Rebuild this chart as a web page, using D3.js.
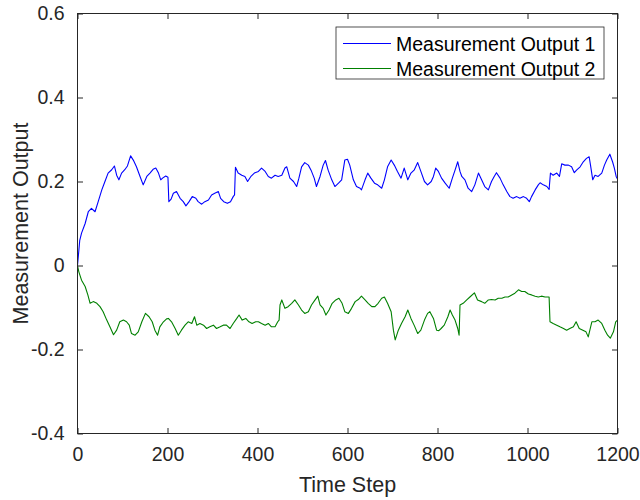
<!DOCTYPE html>
<html>
<head>
<meta charset="utf-8">
<script src="https://cdn.jsdelivr.net/npm/d3@7"></script>
<style>
  html, body { margin: 0; padding: 0; background: #fff; }
  svg { display: block; font-family: Arial, "Liberation Sans", Helvetica, sans-serif; }
</style>
</head>
<body>
<svg id="chart" width="640" height="500"></svg>
<script>
// Measurement Output 1: time steps and values
const steps1 = [0,5,9,17,24,31,39,46,54,61,68,76,82,87,92,98,105,111,118,124,131,139,146,154,161,168,174,180,185,189,196,201,
  203,208,213,220,228,235,241,248,255,263,268,276,283,291,298,305,313,318,325,333,340,346,349,351,357,365,372,378,386,393,
  402,409,417,424,431,439,446,454,461,465,472,480,487,492,498,505,513,519,526,531,539,546,551,557,565,572,580,587,594,600,
  605,613,620,628,631,639,645,652,660,667,676,682,689,697,704,711,719,726,734,741,748,756,763,771,778,786,791,796,
  802,809,817,826,833,839,845,850,854,861,868,876,883,891,898,905,913,920,926,931,939,946,954,961,968,976,983,991,998,1004,
  1009,1017,1024,1028,1035,1043,1048,1051,1057,1065,1071,1076,1083,1091,1098,1104,1109,1117,1124,1131,1137,1140,1145,1150,
  1157,1165,1171,1176,1183,1189,1193,1197,1200];
const output1 = [0,0.06,0.077,0.10,0.128,0.136,0.128,0.152,0.18,0.20,0.22,0.228,0.237,0.215,0.204,0.22,0.228,0.237,0.261,0.251,0.235,0.212,0.192,0.212,0.22,0.229,0.232,0.22,0.204,0.208,0.213,0.21,
  0.152,0.158,0.172,0.176,0.16,0.152,0.142,0.152,0.164,0.16,0.152,0.146,0.152,0.156,0.168,0.172,0.176,0.16,0.152,0.148,0.152,0.164,0.168,0.234,0.22,0.215,0.212,0.2,0.213,0.22,
  0.224,0.232,0.224,0.212,0.208,0.215,0.212,0.215,0.232,0.235,0.208,0.2,0.188,0.208,0.235,0.245,0.239,0.227,0.208,0.188,0.212,0.239,0.25,0.227,0.204,0.188,0.196,0.204,0.251,0.253,
  0.239,0.204,0.188,0.184,0.18,0.204,0.22,0.208,0.196,0.192,0.184,0.204,0.235,0.251,0.239,0.224,0.208,0.232,0.204,0.22,0.227,0.245,0.224,0.2,0.192,0.2,0.212,0.232,
  0.224,0.208,0.196,0.184,0.208,0.227,0.247,0.224,0.212,0.204,0.184,0.176,0.192,0.22,0.204,0.188,0.18,0.2,0.212,0.221,0.208,0.192,0.176,0.164,0.16,0.164,0.16,0.164,0.16,0.152,
  0.164,0.18,0.192,0.197,0.192,0.188,0.181,0.22,0.215,0.22,0.212,0.242,0.239,0.239,0.235,0.221,0.227,0.235,0.247,0.255,0.259,0.239,0.204,0.215,
  0.212,0.22,0.239,0.251,0.265,0.247,0.232,0.212,0.206];

// Measurement Output 2: time steps and values
const steps2 = [0,3,9,17,23,28,35,43,50,57,65,72,80,87,94,102,109,115,120,128,135,143,151,159,166,172,178,183,191,198,
  202,209,217,224,231,239,246,254,260,265,272,280,287,294,302,309,317,324,331,339,346,354,359,366,374,381,388,396,
  402,409,417,424,431,439,445,448,450,454,461,468,476,483,491,498,505,513,520,528,534,539,546,552,559,566,574,581,588,594,602,
  609,617,624,631,639,646,654,661,668,676,682,689,697,702,706,713,720,728,734,741,748,756,763,771,778,783,791,798,
  803,808,815,823,828,833,839,845,848,850,857,865,872,882,889,898,905,913,920,928,935,943,950,957,965,972,980,987,994,
  1002,1009,1017,1024,1031,1039,1048,1050,1057,1065,1072,1080,1087,1094,1102,1108,1115,1123,1130,1135,1143,1150,
  1157,1165,1172,1178,1184,1191,1196,1200];
const output2 = [0,-0.015,-0.035,-0.05,-0.07,-0.09,-0.086,-0.09,-0.098,-0.11,-0.13,-0.146,-0.165,-0.154,-0.134,-0.13,-0.134,-0.142,-0.162,-0.166,-0.158,-0.134,-0.114,-0.122,-0.134,-0.154,-0.166,-0.146,-0.134,-0.127,
  -0.126,-0.134,-0.15,-0.166,-0.154,-0.142,-0.134,-0.138,-0.122,-0.142,-0.138,-0.142,-0.15,-0.146,-0.142,-0.15,-0.146,-0.142,-0.142,-0.15,-0.138,-0.126,-0.118,-0.13,-0.126,-0.134,-0.138,-0.134,
  -0.134,-0.138,-0.142,-0.138,-0.146,-0.146,-0.134,-0.13,-0.094,-0.082,-0.102,-0.098,-0.09,-0.082,-0.094,-0.106,-0.114,-0.11,-0.094,-0.082,-0.073,-0.094,-0.102,-0.118,-0.106,-0.09,-0.082,-0.078,-0.09,-0.11,-0.114,
  -0.102,-0.086,-0.081,-0.073,-0.082,-0.09,-0.098,-0.098,-0.09,-0.078,-0.075,-0.09,-0.11,-0.154,-0.177,-0.154,-0.138,-0.122,-0.106,-0.126,-0.142,-0.162,-0.154,-0.13,-0.114,-0.11,-0.126,-0.154,
  -0.155,-0.15,-0.142,-0.122,-0.106,-0.118,-0.13,-0.15,-0.166,-0.094,-0.09,-0.082,-0.075,-0.065,-0.082,-0.086,-0.09,-0.082,-0.081,-0.082,-0.078,-0.078,-0.075,-0.075,-0.07,-0.066,-0.058,-0.062,-0.062,
  -0.068,-0.07,-0.073,-0.075,-0.073,-0.075,-0.075,-0.134,-0.138,-0.142,-0.146,-0.15,-0.154,-0.15,-0.146,-0.134,-0.15,-0.154,-0.158,-0.17,-0.134,-0.134,
  -0.13,-0.138,-0.154,-0.166,-0.173,-0.158,-0.134,-0.13];

const xTicks = [0, 200, 400, 600, 800, 1000, 1200];
const yTicks = [-0.4, -0.2, 0, 0.2, 0.4, 0.6];
const yTickLabels = ["-0.4", "-0.2", "0", "0.2", "0.4", "0.6"];
const seriesNames = ["Measurement Output 1", "Measurement Output 2"];
const seriesColors = ["#0000ff", "#008000"];

const svg = d3.select("#chart");
const W = 640, H = 500;
const m = { left: 77.5, right: 22.5, top: 13.5, bottom: 66.5 };
const axisColor = "#262626";

svg.append("rect").attr("width", W).attr("height", H).attr("fill", "#fff");

const x = d3.scaleLinear().domain([0, 1200]).range([m.left, W - m.right]);
const y = d3.scaleLinear().domain([-0.4, 0.6]).range([H - m.bottom, m.top]);

// Data lines
const series = [
  { name: seriesNames[0], color: seriesColors[0], pts: steps1.map((s, i) => [s, output1[i]]) },
  { name: seriesNames[1], color: seriesColors[1], pts: steps2.map((s, i) => [s, output2[i]]) }
];
const line = d3.line().x(d => x(d[0])).y(d => y(d[1]));
svg.append("g").selectAll("path").data(series).join("path")
  .attr("d", d => line(d.pts))
  .attr("fill", "none")
  .attr("stroke", d => d.color)
  .attr("stroke-width", 1.1)
  .attr("stroke-linejoin", "round");

// Axes with inward ticks on all four sides
const tickLen = 5.5;
const axB = svg.append("g").attr("transform", `translate(0,${H - m.bottom})`)
  .call(d3.axisBottom(x).tickValues(xTicks).tickSizeInner(-tickLen).tickSizeOuter(0).tickPadding(14).tickFormat(d3.format("d")));
const axT = svg.append("g").attr("transform", `translate(0,${m.top})`)
  .call(d3.axisTop(x).tickValues(xTicks).tickSizeInner(-tickLen).tickSizeOuter(0).tickFormat(""));
const axL = svg.append("g").attr("transform", `translate(${m.left},0)`)
  .call(d3.axisLeft(y).tickValues(yTicks).tickSizeInner(-tickLen).tickSizeOuter(0).tickPadding(13)
    .tickFormat((d, i) => yTickLabels[i]));
const axR = svg.append("g").attr("transform", `translate(${W - m.right},0)`)
  .call(d3.axisRight(y).tickValues(yTicks).tickSizeInner(-tickLen).tickSizeOuter(0).tickFormat(""));

[axB, axT, axL, axR].forEach(g => {
  g.select(".domain").remove();
  g.selectAll(".tick line").attr("stroke", axisColor).attr("stroke-width", 1);
  g.selectAll("text").attr("fill", axisColor).attr("font-size", "19.5px")
    .attr("font-family", "Arial, 'Liberation Sans', sans-serif");
});

// Box around the plotting area
svg.append("rect")
  .attr("x", m.left).attr("y", m.top)
  .attr("width", W - m.left - m.right).attr("height", H - m.top - m.bottom)
  .attr("fill", "none").attr("stroke", axisColor).attr("stroke-width", 1);

// Axis labels
svg.append("text")
  .attr("x", (m.left + W - m.right) / 2).attr("y", 492)
  .attr("text-anchor", "middle").attr("fill", axisColor).attr("font-size", "21.5px")
  .text("Time Step");
svg.append("text")
  .attr("transform", `translate(28,${(m.top + H - m.bottom) / 2}) rotate(-90)`)
  .attr("text-anchor", "middle").attr("fill", axisColor).attr("font-size", "21.5px")
  .text("Measurement Output");

// Legend
const lg = svg.append("g");
lg.append("rect")
  .attr("x", 336).attr("y", 27).attr("width", 268).attr("height", 52)
  .attr("fill", "#fff").attr("stroke", axisColor).attr("stroke-width", 0.8);
series.forEach((s, i) => {
  const cy = 43.5 + i * 25;
  lg.append("line").attr("x1", 343).attr("x2", 391).attr("y1", cy).attr("y2", cy)
    .attr("stroke", s.color).attr("stroke-width", 1);
  lg.append("text").attr("x", 396).attr("y", cy + 7)
    .attr("fill", "#000").attr("font-size", "19.5px").text(s.name);
});
</script>
</body>
</html>
